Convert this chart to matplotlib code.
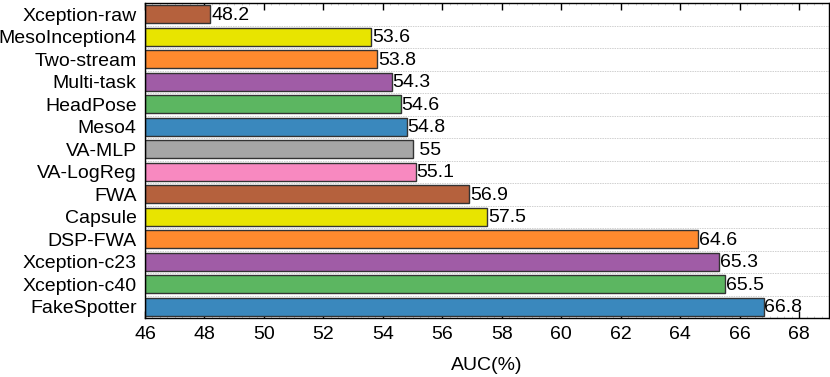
import numpy as np
import matplotlib
matplotlib.use("Agg")
import matplotlib.pyplot as plt
from matplotlib.ticker import MultipleLocator

plt.rcParams["font.family"] = ["Liberation Sans", "DejaVu Sans"]

methods = ["Xception-raw", "MesoInception4", "Two-stream", "Multi-task", "HeadPose",
           "Meso4", "VA-MLP", "VA-LogReg", "FWA", "Capsule", "DSP-FWA",
           "Xception-c23", "Xception-c40", "FakeSpotter"]
auc = [48.2, 53.6, 53.8, 54.3, 54.6, 54.8, 55, 55.1, 56.9, 57.5, 64.6, 65.3, 65.5, 66.8]
value_labels = ["48.2", "53.6", "53.8", "54.3", "54.6", "54.8", " 55", "55.1",
                "56.9", "57.5", "64.6", "65.3", "65.5", "66.8"]

palette = ["#b5613d", "#e8e400", "#ff8a2e", "#a05ca6", "#5cb661", "#3a88bd",
           "#a6a6a6", "#f889c0"]
colors = [palette[i % len(palette)] for i in range(len(methods))]

fig = plt.figure(figsize=(8.3, 3.77), dpi=100)
ax = fig.add_axes([0.1747, 0.1565, 0.8241, 0.8355])

y = np.arange(len(methods))
ax.barh(y, np.array(auc) - 46, left=46, height=0.8, color=colors,
        edgecolor="#333333", linewidth=1.0, zorder=3)

for yi, v, lab in zip(y, auc, value_labels):
    ax.text(v + 0.03, yi + 0.04, lab, va="center", ha="left", fontsize=14, zorder=4)

for g in np.arange(0.5, len(methods) - 1, 1.0):
    ax.axhline(g, color="#d0d0d0", linestyle=(0, (1.5, 1)), linewidth=0.7, zorder=1)

ax.set_xlim(46, 69)
ax.set_ylim(len(methods) - 0.5, -0.5)
ax.set_yticks(y)
ax.set_yticklabels(methods, fontsize=14)
ax.set_xticks(np.arange(46, 69, 2))
ax.tick_params(axis="x", labelsize=14, direction="in", top=True, length=5, width=1,
               pad=6)
ax.xaxis.set_minor_locator(MultipleLocator(0.25))
ax.tick_params(axis="x", which="minor", direction="in", top=True, length=1.5,
               width=0.5, color="#bbbbbb")
ax.tick_params(axis="y", length=0, pad=6)
ax.set_xlabel("AUC(%)", fontsize=14, labelpad=10)
for s in ax.spines.values():
    s.set_linewidth(1.0)
    s.set_zorder(5)

fig.savefig("out.png", dpi=100)
